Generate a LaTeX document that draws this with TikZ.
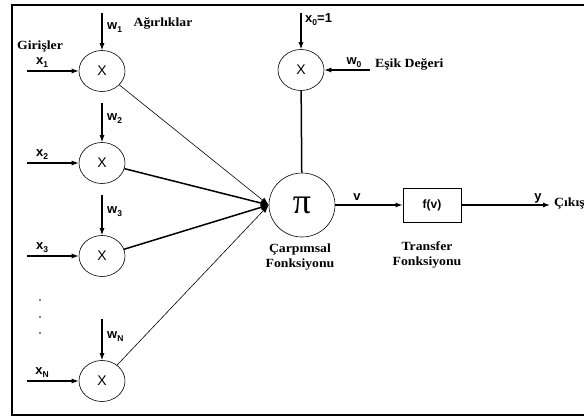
\documentclass[tikz,border=0pt]{standalone}
\usepackage{fontspec}
\setmainfont{Liberation Serif}
\setsansfont{Liberation Sans}
\newfontfamily\capfont[FakeStretch=1.1]{Liberation Serif}
\usetikzlibrary{shapes.geometric,arrows.meta}

% weight / input labels: sans letter with a lowered index
\newcommand{\sublbl}[2]{\textsf{\bfseries #1\raisebox{-0.45ex}{\fontsize{8.5}{9}\selectfont #2}}}

\tikzset{
  mult/.style={draw, ellipse, line width=0.6pt, minimum width=46pt, minimum height=41pt,
               inner sep=0pt, font=\sffamily\fontsize{14}{14}\selectfont},
  prod/.style={draw, ellipse, line width=0.6pt, minimum width=66pt, minimum height=64pt,
               inner sep=0pt, font=\fontsize{36}{36}\selectfont},
  tbox/.style={draw, rectangle, line width=0.8pt, minimum width=58pt, minimum height=34pt,
               inner sep=0pt, font=\sffamily\bfseries\fontsize{12}{12}\selectfont},
  arr/.style={line width=1.1pt, -{Latex[length=7pt,width=5pt]}},
  thin link/.style={line width=0.6pt, -{Latex[length=8pt,width=6pt]}},
  thick link/.style={line width=1.5pt, -{Latex[length=8pt,width=6pt]}},
  caption/.style={font=\capfont\bfseries\fontsize{12.5}{15}\selectfont, align=center, inner sep=0pt},
  sym/.style={inner sep=0pt, font=\fontsize{13}{13}\selectfont},
  dot/.style={circle, fill, inner sep=0pt, minimum size=1.6pt}
}

\begin{document}
\begin{tikzpicture}[x=1pt, y=-1pt]
\useasboundingbox (0,0) rectangle (584,420);
\clip (0,0) rectangle (584,420);

% outer frame
\draw[line width=1.5pt] (600,5) -- (12,5) -- (12,415) -- (600,415);

% multiplier nodes
\node[mult] (m1) at (102,71)  {X};
\node[mult] (m2) at (102,163) {X};
\node[mult] (m3) at (102,256) {X};
\node[mult] (mn) at (102,381) {X};
\node[mult] (m0) at (301,70)  {X};

% product, transfer
\node[prod] (pi) at (302,205) {π};
\node[tbox] (fv) at (432,205) {f(v)};

% input start points
\coordinate (i1) at (27,71);
\coordinate (i2) at (27,163);
\coordinate (i3) at (27,256);
\coordinate (in) at (27,381);
% weight start points
\coordinate (w1) at (102,13);
\coordinate (w2) at (102,103);
\coordinate (w3) at (102,195);
\coordinate (wn) at (102,319);
\coordinate (x0) at (301,13);
\coordinate (w0) at (370,70);
\coordinate (out) at (550,205);

% inputs and weights
\foreach \s/\t in {i1/m1, i2/m2, i3/m3, in/mn, w1/m1, w2/m2, w3/m3, wn/mn, x0/m0, w0/m0}
  \draw[arr] (\s) -- (\t);

% input labels
\node[sym, anchor=south] (lx1) at (42,68)  {\sublbl{x}{1}};
\node[sym, anchor=south] (lx2) at (42,160) {\sublbl{x}{2}};
\node[sym, anchor=south] (lx3) at (42,253) {\sublbl{x}{3}};
\node[sym, anchor=south] (lxn) at (42,378) {\sublbl{x}{N}};

% weight labels
\node[sym, anchor=west] (lw1) at (107,28)  {\sublbl{w}{1}};
\node[sym, anchor=west] (lw2) at (107,119) {\sublbl{w}{2}};
\node[sym, anchor=west] (lw3) at (107,212) {\sublbl{w}{3}};
\node[sym, anchor=west] (lwn) at (107,337) {\sublbl{w}{N}};
\node[sym, anchor=west] (lx0) at (305,20)  {\sublbl{x}{0}\textsf{\bfseries =1}};
\node[sym] (lw0) at (354,63) {\sublbl{w}{0}};

% continuation dots
\node[dot] (d1) at (40,300) {};
\node[dot] (d2) at (40,317) {};
\node[dot] (d3) at (40,333) {};

% weighted inputs into the product
\draw[thin link]  (m1) -- (pi.west);
\draw[thick link] (m2) -- (pi.west);
\draw[thick link] (m3) -- (pi.west);
\draw[thin link]  (mn) -- (pi.west);
\draw[line width=1.5pt] (m0) -- (pi);

% product to transfer to output
\draw[arr] (pi) -- (fv);
\draw[arr] (fv) -- (out);
\node[sym] (lv) at (357,197) {\textsf{\bfseries v}};
\node[sym] (ly) at (538,198) {\textsf{\bfseries y}};

% captions
\node[caption] (cg) at (40,46)  {Girişler};
\node[caption] (ca) at (163,23) {Ağırlıklar};
\node[caption, anchor=west] (ce) at (375,64) {Eşik Değeri};
\node[caption, anchor=west] (cc) at (554,203) {Çıkış};
\node[caption] (cp) at (300,257) {Çarpımsal\\Fonksiyonu};
\node[caption] (ct) at (427,255) {Transfer\\Fonksiyonu};
\end{tikzpicture}
\end{document}
